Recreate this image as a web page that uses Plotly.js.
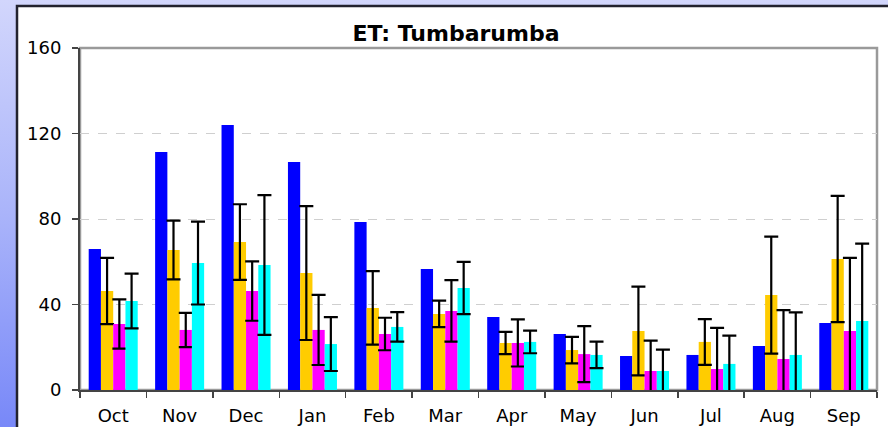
<!DOCTYPE html>
<html>
<head>
<meta charset="utf-8">
<script src="https://cdn.plot.ly/plotly-3.0.1.min.js"></script>
<style>
  html, body { margin: 0; padding: 0; }
  #wrap { width: 888px; height: 427px; background: linear-gradient(to bottom, #d2d6fc 0%, #aab4fa 50%, #7888f8 100%); }
  #chart { width: 888px; height: 427px; }
</style>
</head>
<body>
<div id="wrap"><div id="chart"></div></div>
<script>
const months = ["Oct","Nov","Dec","Jan","Feb","Mar","Apr","May","Jun","Jul","Aug","Sep"];
const blueVals = [66.0, 111.3, 124.0, 106.7, 78.6, 56.6, 34.2, 26.2, 15.9, 16.4, 20.6, 31.3];
const goldVals = [46.3, 65.5, 69.2, 54.7, 38.4, 35.6, 22.0, 18.7, 27.6, 22.5, 44.4, 61.3];
const goldErr = [15.5, 13.7, 17.7, 31.3, 17.2, 6.2, 5.2, 6.2, 20.8, 10.7, 27.4, 29.5];
const magentaVals = [30.9, 28.1, 46.3, 28.1, 26.2, 37.0, 22.0, 16.8, 8.9, 9.8, 14.5, 27.6];
const magentaErr = [11.5, 8.0, 13.9, 16.4, 7.6, 14.4, 11.0, 13.1, 14.2, 19.3, 22.9, 34.2];
const cyanVals = [41.6, 59.4, 58.5, 21.5, 29.5, 47.7, 22.5, 16.4, 8.9, 12.2, 16.4, 32.3];
const cyanErr = [12.8, 19.4, 32.7, 12.6, 6.9, 12.2, 5.3, 6.2, 10.0, 13.2, 19.9, 36.2];
const yTicks = [0, 40, 80, 120, 160];

function err(arr) {
  return {type: "data", array: arr, symmetric: true, visible: true, color: "#000000", thickness: 2.2, width: 7};
}

const traces = [
  {type: "bar", name: "Series 1", x: months, y: blueVals, marker: {color: "#0000ff"}},
  {type: "bar", name: "Series 2", x: months, y: goldVals, marker: {color: "#ffcc00"}, error_y: err(goldErr)},
  {type: "bar", name: "Series 3", x: months, y: magentaVals, marker: {color: "#ff00ff"}, error_y: err(magentaErr)},
  {type: "bar", name: "Series 4", x: months, y: cyanVals, marker: {color: "#00ffff"}, error_y: err(cyanErr)}
];

const layout = {
  width: 888, height: 427,
  margin: {l: 80, r: 11, t: 48, b: 37, autoexpand: false},
  paper_bgcolor: "rgba(0,0,0,0)",
  plot_bgcolor: "rgba(0,0,0,0)",
  showlegend: false,
  barmode: "group",
  bargap: 0.262,
  bargroupgap: 0,
  title: {
    text: "ET: Tumbarumba",
    font: {family: "DejaVu Sans", size: 22, weight: "bold", color: "#000000"},
    xref: "container", yref: "container",
    x: 0.5135, xanchor: "center",
    y: 1 - 33/427, yanchor: "middle"
  },
  font: {family: "DejaVu Sans", size: 18, color: "#000000"},
  xaxis: {
    type: "category",
    tickson: "boundaries",
    ticks: "outside", ticklen: 6, tickwidth: 1.5, tickcolor: "#444",
    showline: true, linecolor: "#444", linewidth: 2,
    showgrid: false,
    ticklabelstandoff: 8,
    tickfont: {family: "DejaVu Sans", size: 18, color: "#000"}
  },
  yaxis: {
    range: [0, 160],
    tickvals: yTicks,
    ticks: "outside", ticklen: 6, tickwidth: 1.5, tickcolor: "#444",
    showline: true, linecolor: "#444", linewidth: 2,
    showgrid: true, gridcolor: "#cfcfcf", gridwidth: 1, griddash: "dash",
    zeroline: false,
    ticklabelstandoff: 7,
    tickfont: {family: "DejaVu Sans", size: 18, color: "#000"}
  },
  shapes: [
    {type: "rect", xref: "paper", yref: "paper", layer: "below",
     x0: (17 - 80) / 797, x1: (900 - 80) / 797, y0: (390 - 440) / 342, y1: (390 - 6) / 342,
     fillcolor: "#ffffff", line: {color: "#22222e", width: 2.5}},
    {type: "rect", xref: "paper", yref: "paper", layer: "below",
     x0: 0, x1: 1, y0: 0, y1: 1,
     fillcolor: "rgba(0,0,0,0)", line: {color: "#9a9a9a", width: 2.5}}
  ]
};

Plotly.newPlot("chart", traces, layout, {displayModeBar: false, staticPlot: true});
</script>
</body>
</html>
